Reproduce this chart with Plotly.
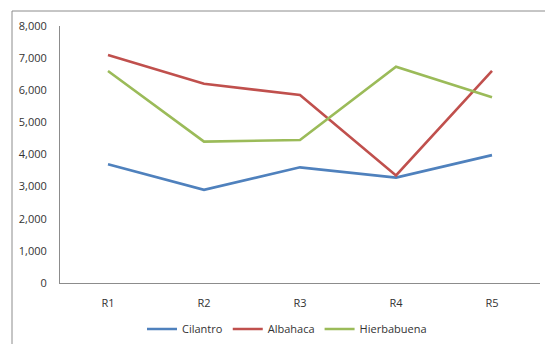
import plotly.graph_objects as go

# Categories and series values
rounds = ["R1", "R2", "R3", "R4", "R5"]
cilantro = [3700, 2900, 3600, 3280, 3980]
albahaca = [7100, 6200, 5850, 3350, 6600]
hierbabuena = [6600, 4400, 4450, 6730, 5780]
y_ticks = [0, 1000, 2000, 3000, 4000, 5000, 6000, 7000, 8000]

series = [
    ("Cilantro", cilantro, "#4F81BD"),
    ("Albahaca", albahaca, "#C0504D"),
    ("Hierbabuena", hierbabuena, "#9BBB59"),
]

fig = go.Figure()
for name, vals, color in series:
    fig.add_trace(go.Scatter(
        x=rounds, y=vals, name=name, mode="lines",
        line=dict(color=color, width=2.6),
    ))

W, H = 545, 344
L, R, T, B = 60, 5, 26, 61
pw, ph = W - L - R, H - T - B

fig.update_layout(
    width=W, height=H,
    margin=dict(l=L, r=R, t=T, b=B, autoexpand=False),
    paper_bgcolor="white", plot_bgcolor="white",
    font=dict(family="Open Sans, Liberation Sans, sans-serif", size=11, color="#333"),
    showlegend=True,
    legend=dict(
        orientation="h", x=(287 - L) / pw, xanchor="center",
        y=(T + ph - 329) / ph, yanchor="middle",
        font=dict(size=11, color="#333"),
        itemwidth=30,
    ),
    xaxis=dict(
        type="category", range=[-0.5, 4.5], showgrid=False,
        showline=True, linecolor="#8c8c8c", linewidth=1, automargin=False,
        ticks="", ticklabelstandoff=10, tickfont=dict(size=11), fixedrange=True,
    ),
    yaxis=dict(
        range=[0, 8000], tickvals=y_ticks, tickformat=",",
        showgrid=False, zeroline=False, automargin=False,
        showline=True, linecolor="#8c8c8c", linewidth=1,
        ticks="", ticklabelstandoff=10, tickfont=dict(size=11),
    ),
    shapes=[dict(
        type="rect", xref="paper", yref="paper",
        x0=(12 - L) / pw, x1=(W + 5 - L) / pw,
        y0=(T + ph - (H + 5)) / ph, y1=(T + ph - 11) / ph,
        line=dict(color="#8c8c8c", width=1), layer="below",
    )],
)

fig.write_html("out.html")
